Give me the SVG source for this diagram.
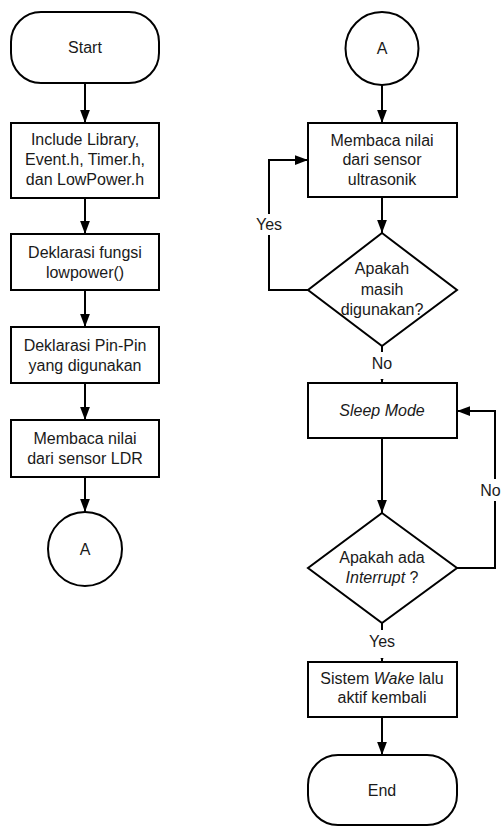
<svg xmlns="http://www.w3.org/2000/svg" width="502" height="827" viewBox="0 0 502 827">
<style>
.n{fill:#fff;stroke:#000;stroke-width:2}
.t{font-family:"Liberation Sans",Arial,sans-serif;font-size:16px;fill:#1a1a1a;text-anchor:middle}
.c{fill:none;stroke:#000;stroke-width:2}
.lb{fill:#fff;stroke:none}
</style>
<defs>
<marker id="ah" markerUnits="userSpaceOnUse" markerWidth="13" markerHeight="17" refX="16" refY="6" orient="auto" viewBox="0 0 16 12">
<path d="M0,0 L16,6 L0,12 z" fill="#000"/>
</marker>
</defs>
<rect width="502" height="827" fill="#fff"/>
<g id="connectors">
<path class="c" d="M85 83 V123" marker-end="url(#ah)"/>
<path class="c" d="M85 198 V234" marker-end="url(#ah)"/>
<path class="c" d="M85 290 V327" marker-end="url(#ah)"/>
<path class="c" d="M85 383 V420" marker-end="url(#ah)"/>
<path class="c" d="M85 477 V512" marker-end="url(#ah)"/>
<path class="c" d="M382 85 V123" marker-end="url(#ah)"/>
<path class="c" d="M382 197 V233" marker-end="url(#ah)"/>
<path class="c" d="M308 290 H269 V160 H308" marker-end="url(#ah)"/>
<path class="c" d="M382 346 V383" marker-end="url(#ah)"/>
<path class="c" d="M382 438 V513" marker-end="url(#ah)"/>
<path class="c" d="M457 568 H495 V411 H457" marker-end="url(#ah)"/>
<path class="c" d="M382 623 V662" marker-end="url(#ah)"/>
<path class="c" d="M382 717 V755" marker-end="url(#ah)"/>
<rect class="lb" x="254" y="214" width="30" height="21"/>
<text class="t" x="269" y="230">Yes</text>
<rect class="lb" x="369" y="352" width="26" height="27"/>
<text class="t" x="382" y="369">No</text>
<rect class="lb" x="479" y="479" width="23" height="22"/>
<text class="t" x="490.5" y="496">No</text>
<rect class="lb" x="367" y="630" width="30" height="28"/>
<text class="t" x="382" y="647">Yes</text>
</g>
<g id="start">
<rect class="n" x="11" y="12" width="148" height="71" rx="30" ry="30"/>
<text class="t" x="85" y="53">Start</text>
</g>
<g id="include">
<rect class="n" x="11" y="123" width="148" height="75"/>
<text class="t" x="85" y="145">Include Library,</text>
<text class="t" x="85" y="165">Event.h, Timer.h,</text>
<text class="t" x="85" y="185">dan LowPower.h</text>
</g>
<g id="deklarasi-fungsi">
<rect class="n" x="11" y="234" width="148" height="56"/>
<text class="t" x="85" y="258">Deklarasi fungsi</text>
<text class="t" x="85" y="278">lowpower()</text>
</g>
<g id="deklarasi-pin">
<rect class="n" x="11" y="327" width="148" height="56"/>
<text class="t" x="85" y="351">Deklarasi Pin-Pin</text>
<text class="t" x="85" y="371">yang digunakan</text>
</g>
<g id="baca-ldr">
<rect class="n" x="11" y="420" width="148" height="57"/>
<text class="t" x="85" y="444">Membaca nilai</text>
<text class="t" x="85" y="464">dari sensor LDR</text>
</g>
<g id="connector-a-left">
<circle class="n" cx="85" cy="549" r="37"/>
<text class="t" x="85" y="555">A</text>
</g>
<g id="connector-a-right">
<circle class="n" cx="382" cy="48.5" r="36.5"/>
<text class="t" x="382" y="54">A</text>
</g>
<g id="baca-ultrasonik">
<rect class="n" x="308" y="123" width="149" height="74"/>
<text class="t" x="382" y="146">Membaca nilai</text>
<text class="t" x="382" y="165">dari sensor</text>
<text class="t" x="382" y="185">ultrasonik</text>
</g>
<g id="masih-digunakan">
<polygon class="n" points="382,233 457,290 382,346 308,290"/>
<text class="t" x="382" y="274">Apakah</text>
<text class="t" x="382" y="295">masih</text>
<text class="t" x="382" y="315">digunakan?</text>
</g>
<g id="sleep-mode">
<rect class="n" x="308" y="383" width="149" height="55"/>
<text class="t" x="382" y="416" font-style="italic">Sleep Mode</text>
</g>
<g id="ada-interrupt">
<polygon class="n" points="382,513 457,568 382,623 308,568"/>
<text class="t" x="382" y="563">Apakah ada</text>
<text class="t" x="382" y="583"><tspan font-style="italic">Interrupt</tspan> ?</text>
</g>
<g id="wake">
<rect class="n" x="308" y="662" width="149" height="55"/>
<text class="t" x="382" y="684">Sistem <tspan font-style="italic">Wake</tspan> lalu</text>
<text class="t" x="382" y="703">aktif kembali</text>
</g>
<g id="end">
<rect class="n" x="308" y="755" width="149" height="70" rx="30" ry="30"/>
<text class="t" x="382" y="796">End</text>
</g>
</svg>
